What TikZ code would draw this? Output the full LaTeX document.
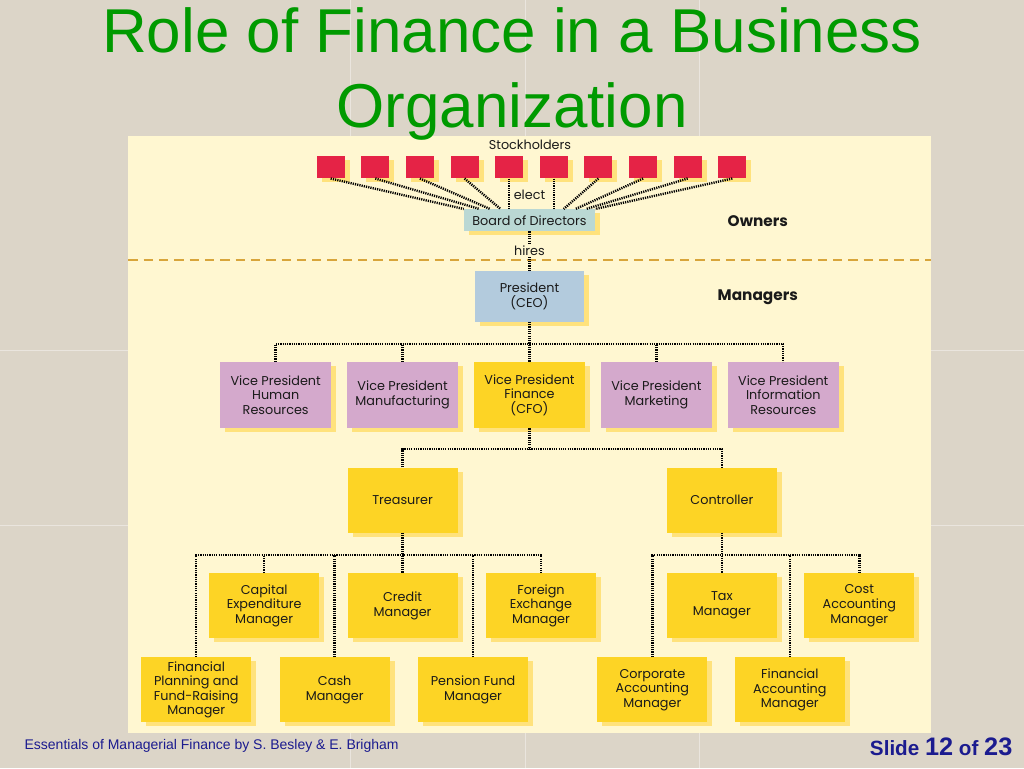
\documentclass[tikz,border=0pt]{standalone}
\usepackage{fontspec}
\setmainfont{Poppins}
\newfontfamily\slidefont{Liberation Sans}
\usetikzlibrary{positioning,calc,shadows}
\definecolor{colorBg}{HTML}{DCD5C8}
\definecolor{colorPanel}{HTML}{FFF7D1}
\definecolor{colorDash}{HTML}{D8A53B}
\definecolor{colorTitle}{HTML}{009A00}
\definecolor{colorFoot}{HTML}{1B1B8F}
\definecolor{colorInk}{HTML}{1A1A1A}
\definecolor{colorHolder}{HTML}{E52346}
\definecolor{colorBoard}{HTML}{BAD8D4}
\definecolor{colorCEO}{HTML}{B3CBDD}
\definecolor{colorVP}{HTML}{D4A9CC}
\definecolor{colorFin}{HTML}{FDD425}
\definecolor{colorShade}{HTML}{FFE27C}

\begin{document}
\begin{tikzpicture}[x=0.75pt,y=-0.75pt,every node/.append style={align=center,text=colorInk,font=\fontsize{9.6}{11}\selectfont},shade/.style={drop shadow={shadow xshift=3.75pt,shadow yshift=-3pt,fill=colorShade,opacity=1}},box/.style={rectangle,shade,inner sep=1pt,minimum width=82.5pt,minimum height=48.75pt},vp/.style={box,fill=colorVP,minimum width=83.25pt,minimum height=49.5pt},fin/.style={box,fill=colorFin},holder/.style={rectangle,shade,fill=colorHolder,minimum width=21pt,minimum height=16.5pt,inner sep=0pt},link/.style={line width=1.8pt,dash pattern=on 0.9pt off 0.8pt},]
    % slide background and chart panel
    \fill[colorBg] (0,0) rectangle (1024,768);
    \draw[white, opacity=.4, line width=.6pt] (350,0) -- (350,768) (525,0) -- (525,768) (700,0) -- (700,768) (0,350) -- (1024,350) (0,525) -- (1024,525);
    \fill[colorPanel] (128,136) rectangle (931,733);
    \draw[colorDash, line width=1.5pt, dash pattern=on 7pt off 4.5pt] (128,260) -- (931,260);
    \node [text=colorTitle, font=\slidefont\fontsize{46.5}{50}\selectfont, anchor=base] (title1) at (512,52) {Role of Finance in a Business};
    \node [text=colorTitle, font=\slidefont\fontsize{46.5}{50}\selectfont, anchor=base] (title2) at (512,127) {Organization};
    % owners
    \node (stock) at (530,145) {Stockholders};
    \node [holder] (sh1) at (330.5,167) {};
    \node [holder, right=12.1pt of sh1] (sh2) {};
    \node [holder, right=12.1pt of sh2] (sh3) {};
    \node [holder, right=12.1pt of sh3] (sh4) {};
    \node [holder, right=12.1pt of sh4] (sh5) {};
    \node [holder, right=12.1pt of sh5] (sh6) {};
    \node [holder, right=12.1pt of sh6] (sh7) {};
    \node [holder, right=12.1pt of sh7] (sh8) {};
    \node [holder, right=12.1pt of sh8] (sh9) {};
    \node [holder, right=12.1pt of sh9] (sh10) {};
    \node [rectangle, shade, fill=colorBoard, minimum width=98.25pt, minimum height=16.5pt, inner sep=1pt] (board) at (529.5,220) {Board of Directors};
    \node (elect) at (529.5,195) {elect};
    \path[link] (sh1.south) edge ($(board.north west)!0!(board.north east)$);
    \path[link] (sh2.south) edge ($(board.north west)!.12!(board.north east)$);
    \path[link] (sh3.south) edge ($(board.north west)!.2!(board.north east)$);
    \path[link] (sh4.south) edge ($(board.north west)!.28!(board.north east)$);
    \path[link] (sh5.south) edge (sh5.south |- board.north);
    \path[link] (sh6.south) edge (sh6.south |- board.north);
    \path[link] (sh7.south) edge ($(board.north west)!.76!(board.north east)$);
    \path[link] (sh8.south) edge ($(board.north west)!.85!(board.north east)$);
    \path[link] (sh9.south) edge ($(board.north west)!.93!(board.north east)$);
    \path[link] (sh10.south) edge ($(board.north west)!1!(board.north east)$);
    \node [font=\bfseries\fontsize{11.5}{13}\selectfont] (owners) at (758,221) {Owners};
    \node [font=\bfseries\fontsize{11.5}{13}\selectfont] (managers) at (758,297) {Managers};
    % managers
    \node [box, fill=colorCEO, minimum height=38.25pt, below=29.25pt of board] (pres) {President\\(CEO)};
    \path[link] (board) edge node [fill=colorPanel, inner sep=1pt] {hires} (pres);
    \node [vp, fill=colorFin, below=30pt of pres] (vpFin) {Vice President\\Finance\\(CFO)};
    \node [vp, left=11.6pt of vpFin] (vpMfg) {Vice President\\Manufacturing};
    \node [vp, left=11.6pt of vpMfg] (vpHR) {Vice President\\Human\\Resources};
    \node [vp, right=11.6pt of vpFin] (vpMkt) {Vice President\\Marketing};
    \node [vp, right=11.6pt of vpMkt] (vpIR) {Vice President\\Information\\Resources};
    \coordinate (busA) at ($(pres.south)+(0,22)$);
    \draw[link] (vpHR.north) |- (busA) -| (vpIR.north);
    \draw[link] (pres.south) -- (vpFin.north);
    \draw[link] (vpMfg.north) -- (vpMfg.north |- busA);
    \draw[link] (vpMkt.north) -- (vpMkt.north |- busA);
    % finance side
    \node [fin, below=29.25pt of vpMfg] (treas) {Treasurer};
    \node [fin, right=156.75pt of treas] (ctrl) {Controller};
    \coordinate (busB) at ($(vpFin.south)+(0,20.5)$);
    \draw[link] (treas.north) |- (busB) -| (ctrl.north);
    \draw[link] (vpFin.south) -- (busB);
    \node [fin, below=30pt of treas] (credit) {Credit\\Manager};
    \node [fin, left=21pt of credit] (capex) {Capital\\Expenditure\\Manager};
    \node [fin, right=21pt of credit] (forex) {Foreign\\Exchange\\Manager};
    \node [fin] (fplan) at (196,690) {Financial\\Planning and\\Fund-Raising\\Manager};
    \node [fin, right=21pt of fplan] (cash) {Cash\\Manager};
    \node [fin, right=21pt of cash] (pension) {Pension Fund\\Manager};
    \coordinate (busC) at ($(treas.south)+(0,22)$);
    \draw[link] (fplan.north) |- (busC) -| (forex.north);
    \draw[link] (treas.south) -- (credit.north);
    \draw[link] (capex.north) -- (capex.north |- busC);
    \draw[link] (cash.north) -- (cash.north |- busC);
    \draw[link] (pension.north) -- (pension.north |- busC);
    \node [fin, below=30pt of ctrl] (tax) {Tax\\Manager};
    \node [fin, right=20.25pt of tax] (cost) {Cost\\Accounting\\Manager};
    \node [fin] (corp) at (652.5,690) {Corporate\\Accounting\\Manager};
    \node [fin, right=20.25pt of corp] (finacc) {Financial\\Accounting\\Manager};
    \coordinate (busD) at ($(ctrl.south)+(0,22)$);
    \draw[link] (corp.north) |- (busD) -| (cost.north);
    \draw[link] (ctrl.south) -- (tax.north);
    \draw[link] (finacc.north) -- (finacc.north |- busD);
    % footer
    \node [anchor=base west, inner sep=0pt, text=colorFoot, font=\slidefont\fontsize{10.5}{12}\selectfont] (book) at (24,750) {Essentials of Managerial Finance by S. Besley \& E. Brigham};
    \node [anchor=base east, inner sep=0pt, text=colorFoot, font=\slidefont\bfseries\fontsize{15.5}{17}\selectfont] (slideno) at (1013,756) {Slide {\fontsize{19}{20}\selectfont 12} of {\fontsize{19}{20}\selectfont 23}};
\end{tikzpicture}
\end{document}
